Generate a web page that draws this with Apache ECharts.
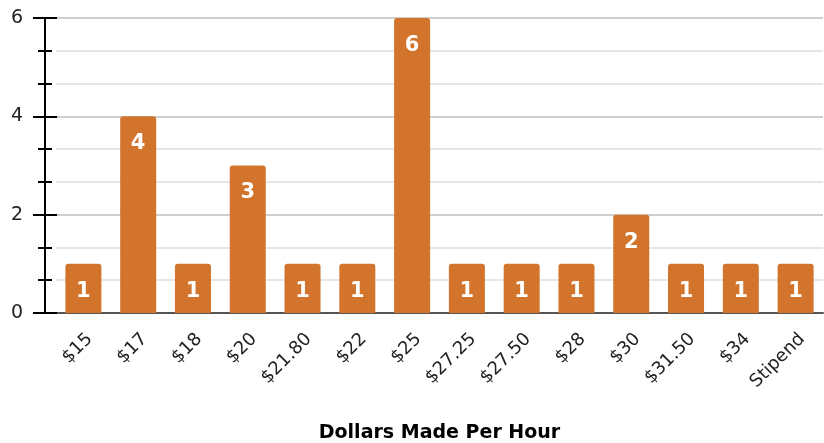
<!DOCTYPE html>
<html>
<head>
<meta charset="utf-8">
<script src="https://cdn.jsdelivr.net/npm/echarts@6/dist/echarts.min.js"></script>
<style>
  html, body { margin: 0; padding: 0; background: #fff; }
  #chart { width: 824px; height: 443px; }
</style>
</head>
<body>
<div id="chart"></div>
<script>
// Hourly pay categories and number of responses for each
const categories = ['$15', '$17', '$18', '$20', '$21.80', '$22', '$25', '$27.25', '$27.50', '$28', '$30', '$31.50', '$34', 'Stipend'];
const counts = [1, 4, 1, 3, 1, 1, 6, 1, 1, 1, 2, 1, 1, 1];
const yTicks = [0, 2, 4, 6];

const FONT = '"DejaVu Sans", Verdana, sans-serif';
const chart = echarts.init(document.getElementById('chart'), null, { renderer: 'canvas' });

const yBase = {
  type: 'value',
  min: yTicks[0],
  max: yTicks[yTicks.length - 1],
  interval: yTicks[1] - yTicks[0],
  position: 'left',
  offset: 11
};

chart.setOption({
  animation: false,
  grid: { left: 56, right: 1, top: 18, bottom: 130, outerBoundsMode: 'none', containLabel: false },
  xAxis: {
    type: 'category',
    data: categories,
    name: 'Dollars Made Per Hour',
    nameLocation: 'middle',
    nameGap: 111,
    nameTextStyle: { fontFamily: FONT, fontWeight: 'bold', fontSize: 19, color: '#000' },
    axisLine: { lineStyle: { color: '#555', width: 2 } },
    axisTick: { show: false },
    axisLabel: {
      rotate: 45,
      interval: 0,
      margin: 17,
      verticalAlign: 'top',
      fontFamily: FONT,
      fontSize: 18,
      color: '#222'
    }
  },
  yAxis: [
    Object.assign({}, yBase, {
      axisLine: { show: true, lineStyle: { color: '#000', width: 2 } },
      axisTick: { show: true, length: 12, lineStyle: { color: '#000', width: 2 } },
      minorTick: { show: true, splitNumber: 3, length: 7, lineStyle: { color: '#000', width: 2 } },
      axisLabel: { fontFamily: FONT, fontSize: 19, color: '#222', margin: 22 },
      splitLine: { show: true, lineStyle: { color: '#cfcfcf', width: 2 } },
      minorSplitLine: { show: true, lineStyle: { color: '#e6e6e6', width: 2 } }
    }),
    Object.assign({}, yBase, {
      axisLine: { show: false },
      axisTick: { show: true, inside: true, length: 12, lineStyle: { color: '#000', width: 2 } },
      minorTick: { show: true, splitNumber: 3, length: 7, lineStyle: { color: '#000', width: 2 } },
      axisLabel: { show: false },
      splitLine: { show: false }
    })
  ],
  series: [{
    type: 'bar',
    data: counts,
    barWidth: 36,
    itemStyle: { color: '#D2742B', borderRadius: [3, 3, 0, 0] },
    label: {
      show: true,
      position: 'insideTop',
      distance: 17,
      fontFamily: FONT,
      fontWeight: 'bold',
      fontSize: 21,
      color: '#fff'
    }
  }]
});
</script>
</body>
</html>
